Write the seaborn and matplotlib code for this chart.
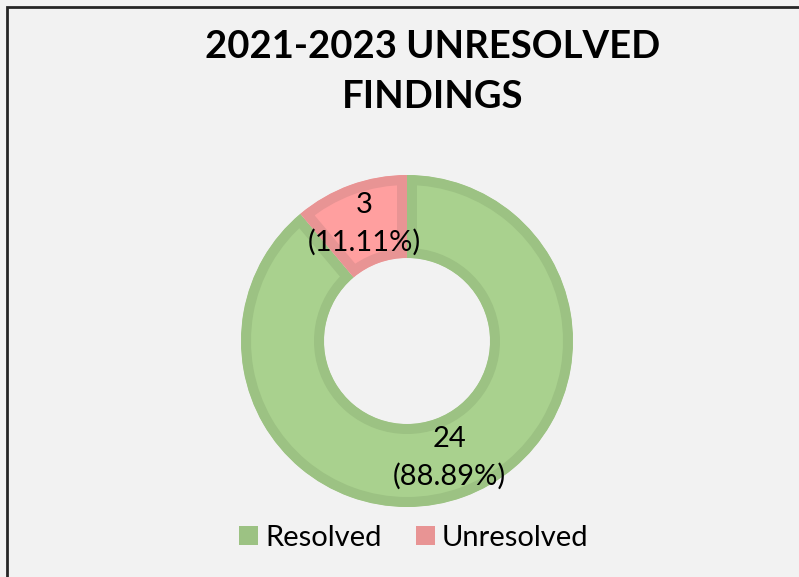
import matplotlib
matplotlib.use("Agg")
import matplotlib.pyplot as plt
import matplotlib.patches as mpatches
import seaborn as sns

categories = ["Resolved", "Unresolved"]
counts = [24, 3]
fill_colors = ["#a9d18e", "#ff9f9f"]
edge_colors = ["#9cc283", "#e89494"]
title = "2021-2023 UNRESOLVED\nFINDINGS"

sns.set_theme(style="white")
plt.rcParams["font.family"] = ["Lato", "DejaVu Sans"]
plt.rcParams["text.color"] = "black"

W, H = 799, 577
fig = plt.figure(figsize=(W / 100, H / 100), dpi=100)
fig.patch.set_facecolor("#f2f2f2")

# donut axes: square 400px centred on the donut centre
cx, cy, side = 407, 341, 400
ax = fig.add_axes([(cx - side / 2) / W, (H - cy - side / 2) / H, side / W, side / H])

total = sum(counts)


def fmt(pct):
    n = int(round(pct * total / 100))
    return f"{n}\n({pct:.2f}%)"


wedges, texts, autotexts = ax.pie(
    counts, radius=0.83, startangle=90, counterclock=False,
    colors=fill_colors, autopct=fmt, pctdistance=0.75,
    wedgeprops=dict(width=0.415, linewidth=14.4),
    textprops=dict(fontsize=21, color="black", linespacing=1.5),
)
# border drawn inside each slice only (clip stroke to a copy of the slice)
for w, ec in zip(wedges, edge_colors):
    w.set_edgecolor(ec)
    clip = mpatches.Wedge(w.center, w.r, w.theta1, w.theta2, width=w.width,
                          transform=ax.transData)
    w.set_clip_on(True)
    w.set_clip_path(clip)
ax.set_xlim(-1, 1)
ax.set_ylim(-1, 1)
ax.set_aspect("equal")
ax.axis("off")

fig.text(433 / W, 1 - 72 / H, title, ha="center", va="center", color="black",
         fontsize=27.5, fontweight="bold", linespacing=1.55)

handles = [mpatches.Patch(facecolor=ec, edgecolor="none", label=c)
           for c, ec in zip(categories, edge_colors)]
fig.legend(handles=handles, loc="center", bbox_to_anchor=(414 / W, 1 - 538 / H),
           ncol=2, frameon=False, fontsize=21, handlelength=0.65, handleheight=0.65,
           handletextpad=0.25, columnspacing=1.15, labelcolor="black")

# outer frame (only left/top edges visible in the crop)
fig.patches.append(mpatches.Rectangle((7 / W, -0.1), 1.2, 1.1 - 7 / H,
                                      transform=fig.transFigure, fill=False,
                                      edgecolor="#262626", linewidth=2))

fig.savefig("out.png", dpi=100, facecolor=fig.get_facecolor())
